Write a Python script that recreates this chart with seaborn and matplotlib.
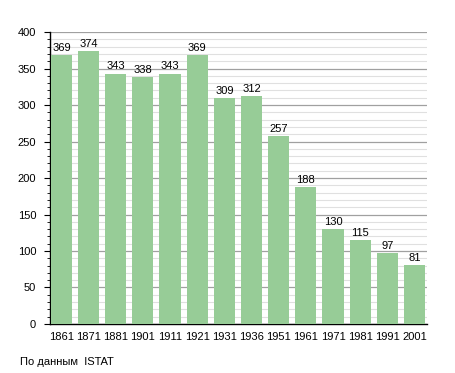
import matplotlib
matplotlib.use('Agg')
import matplotlib.pyplot as plt
import seaborn as sns
import pandas as pd
from matplotlib.ticker import MultipleLocator

years = ['1861', '1871', '1881', '1901', '1911', '1921', '1931', '1936',
         '1951', '1961', '1971', '1981', '1991', '2001']
population = [369, 374, 343, 338, 343, 369, 309, 312, 257, 188, 130, 115, 97, 81]

df = pd.DataFrame({'year': years, 'pop': population})

sns.set_style('white')
plt.rcParams['font.family'] = ['Liberation Sans', 'DejaVu Sans']
plt.rcParams['text.color'] = 'black'
plt.rcParams['xtick.color'] = 'black'
plt.rcParams['ytick.color'] = 'black'
plt.rcParams['axes.labelcolor'] = 'black'

fig = plt.figure(figsize=(4.55, 3.73), dpi=100)
ax = fig.add_axes([0.1099, 0.1314, 0.828, 0.7826])

sns.barplot(data=df, x='year', y='pop', color='#97cc97', saturation=1,
            width=0.78, ax=ax, zorder=3, linewidth=0)

ax.set_ylim(0, 400)
ax.set_xlim(-0.42, 13.45)
ax.yaxis.set_major_locator(MultipleLocator(50))
ax.yaxis.set_minor_locator(MultipleLocator(10))
ax.grid(axis='y', which='major', color='#a0a0a0', linewidth=0.9, zorder=0)
ax.grid(axis='y', which='minor', color='#e0e0e0', linewidth=0.8, zorder=0)
ax.set_axisbelow(True)

for s in ['top', 'right']:
    ax.spines[s].set_visible(False)
for s in ['left', 'bottom']:
    ax.spines[s].set_color('black')
    ax.spines[s].set_linewidth(1.0)

ax.tick_params(axis='y', which='major', left=True, length=4, width=0.8,
               labelsize=8, pad=6, colors='black')
ax.tick_params(axis='y', which='minor', left=True, length=2, width=0.6,
               colors='black')
ax.tick_params(axis='x', bottom=False, labelsize=8, pad=2, colors='black')
ax.set_xlabel('')
ax.set_ylabel('')

for i, v in enumerate(population):
    ax.text(i, v + 3, str(v), ha='center', va='bottom', fontsize=8,
            color='black', zorder=4)

fig.text(20 / 455, 1 - 362 / 373, 'По данным  ISTAT', fontsize=8,
         va='center', ha='left', color='black')

fig.savefig('out.png', dpi=100)
